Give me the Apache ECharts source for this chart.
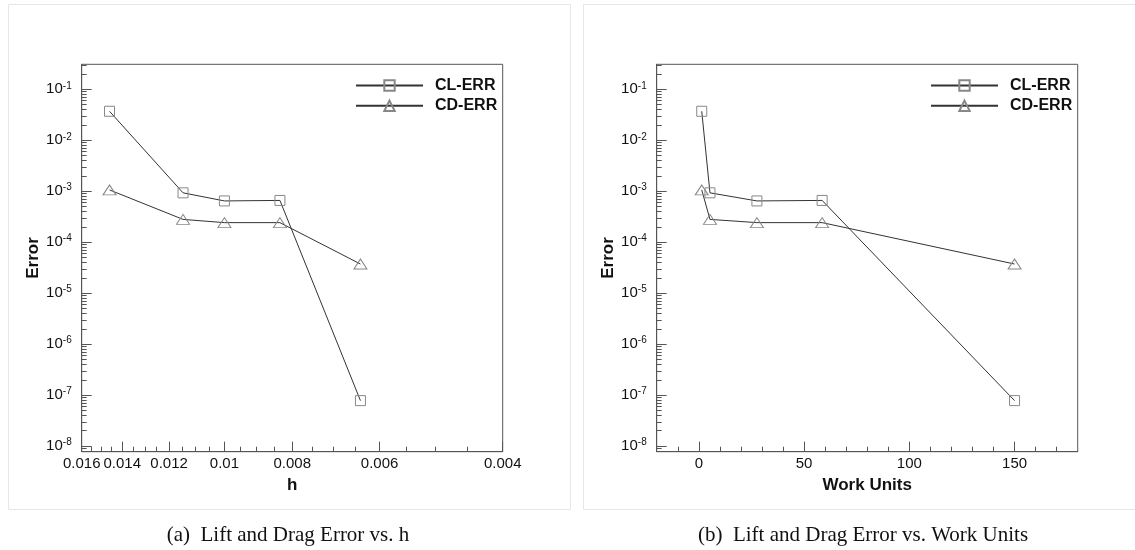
<!DOCTYPE html>
<html>
<head>
<meta charset="utf-8">
<script src="https://cdn.jsdelivr.net/npm/echarts@6/dist/echarts.min.js"></script>
<style>
html, body { margin: 0; padding: 0; background: #fff; }
#main { width: 1135px; height: 550px; }
</style>
</head>
<body>
<div id="main"></div>
<script>
// data
var seriesNames = ['CL-ERR', 'CD-ERR'];
var hValues = [0.0146, 0.01146, 0.0100, 0.00833, 0.00639];
var workUnits = [1.4, 5.3, 27.6, 58.6, 150];
var clErr = [0.037, 9.3e-4, 6.45e-4, 6.6e-4, 7.8e-8];
var cdErr = [1.06e-3, 2.8e-4, 2.42e-4, 2.42e-4, 3.73e-5];

// tick labels
var hTicks = [0.016, 0.014, 0.012, 0.01, 0.008, 0.006, 0.004];
var workTicks = [0, 50, 100, 150];
var errDecades = [-8, -7, -6, -5, -4, -3, -2, -1];
var captions = ['(a)  Lift and Drag Error vs. h', '(b)  Lift and Drag Error vs. Work Units'];

var FRAME = '#555';
var INK = '#111';
var SANS = '"Liberation Sans", Arial, Helvetica, sans-serif';
var SERIF = '"Liberation Serif", "Times New Roman", serif';

function lg(v) { return Math.log10(v); }

var errMin = -8.11, errMax = -0.51;

// minor ticks
var hMinor = [];
for (var k = 8; k <= 32; k++) {
	if (k % 4 !== 0) hMinor.push(lg(k / 2000));
}
var workMinor = [];
for (var w = -10; w <= 170; w += 10) {
	if (w % 50 !== 0) workMinor.push(w);
}
var errMinor = [];
for (var n = -9; n <= -1; n++) {
	for (var m = 2; m <= 9; m++) {
		var v = lg(m) + n;
		if (v > errMin && v < errMax) errMinor.push(v);
	}
}

function xMajor(gridIndex, min, max, inverse, ticks, fmt, name) {
	return {
		type: 'value', gridIndex: gridIndex, position: 'bottom',
		min: min, max: max, inverse: inverse,
		name: name, nameLocation: 'middle', nameGap: 19,
		nameTextStyle: { fontFamily: SANS, fontSize: 17, fontWeight: 'bold', color: INK },
		axisLine: { onZero: false, lineStyle: { color: FRAME, width: 1 } },
		axisTick: { inside: true, length: 10, customValues: ticks, lineStyle: { color: FRAME } },
		axisLabel: { customValues: ticks, formatter: fmt, margin: 5, fontFamily: SANS, fontSize: 15, color: INK },
		splitLine: { show: false }
	};
}

function xMinor(gridIndex, min, max, inverse, ticks) {
	return {
		type: 'value', gridIndex: gridIndex, position: 'bottom',
		min: min, max: max, inverse: inverse,
		axisLine: { show: false, onZero: false },
		axisTick: { inside: true, length: 5, customValues: ticks, lineStyle: { color: FRAME } },
		axisLabel: { show: false },
		splitLine: { show: false }
	};
}

function yMajor(gridIndex) {
	var ticks = errDecades.slice();
	return {
		type: 'value', gridIndex: gridIndex, position: 'left',
		min: errMin, max: errMax,
		name: 'Error', nameLocation: 'middle', nameGap: 40,
		nameTextStyle: { fontFamily: SANS, fontSize: 17, fontWeight: 'bold', color: INK },
		axisLine: { onZero: false, lineStyle: { color: FRAME, width: 1 } },
		axisTick: { inside: true, length: 10, customValues: ticks, lineStyle: { color: FRAME } },
		axisLabel: {
			customValues: ticks, margin: 10,
			formatter: function (val) { return '{b|10}{s|' + Math.round(val) + '}'; },
			rich: {
				b: { fontFamily: SANS, fontSize: 15, lineHeight: 17, color: INK },
				s: { fontFamily: SANS, fontSize: 10, lineHeight: 10, verticalAlign: 'top', color: INK }
			}
		},
		splitLine: { show: false }
	};
}

function yMinor(gridIndex) {
	return {
		type: 'value', gridIndex: gridIndex, position: 'left',
		min: errMin, max: errMax,
		axisLine: { show: false, onZero: false },
		axisTick: { inside: true, length: 5, customValues: errMinor, lineStyle: { color: FRAME } },
		axisLabel: { show: false },
		splitLine: { show: false }
	};
}

function fmtH(val) {
	return String(parseFloat(Math.pow(10, val).toPrecision(3)));
}

function makeSeries(name, symbol, size, xs, ys, axisIndex) {
	var data = xs.map(function (x, i) { return [x, lg(ys[i])]; });
	return {
		name: name, type: 'line', xAxisIndex: axisIndex, yAxisIndex: axisIndex,
		data: data, symbol: symbol, symbolSize: size,
		lineStyle: { color: '#333', width: 1 },
		itemStyle: { color: 'rgba(0,0,0,0)', borderColor: '#888', borderWidth: 1 },
		emphasis: { disabled: true },
		silent: true
	};
}

var hLog = hValues.map(lg);

function legendAt(left) {
	return {
		orient: 'vertical', left: left, top: 77.5, padding: 0,
		itemWidth: 67, itemHeight: 13, itemGap: 4.3,
		selectedMode: false, data: seriesNames,
		textStyle: { fontFamily: SANS, fontSize: 16, fontWeight: 'bold', color: INK, padding: [0, 0, 0, 7] }
	};
}

var option = {
	animation: false,
	backgroundColor: '#fff',
	grid: [
		{ left: 81.7, top: 64.3, width: 421, height: 387.4, show: true, borderColor: FRAME, borderWidth: 1 },
		{ left: 656.7, top: 64.3, width: 421, height: 387.4, show: true, borderColor: FRAME, borderWidth: 1 }
	],
	xAxis: [
		xMajor(0, lg(0.004), lg(0.016), true, hTicks.map(lg), fmtH, 'h'),
		xMinor(0, lg(0.004), lg(0.016), true, hMinor),
		xMajor(1, -20, 180, false, workTicks, function (val) { return String(val); }, 'Work Units'),
		xMinor(1, -20, 180, false, workMinor)
	],
	yAxis: [yMajor(0), yMinor(0), yMajor(1), yMinor(1)],
	legend: [legendAt(355), legendAt(930)],
	series: [
		makeSeries(seriesNames[0], 'rect', 10, hLog, clErr, 0),
		makeSeries(seriesNames[1], 'triangle', [13, 10], hLog, cdErr, 0),
		makeSeries(seriesNames[0], 'rect', 10, workUnits, clErr, 2),
		makeSeries(seriesNames[1], 'triangle', [13, 10], workUnits, cdErr, 2)
	],
	graphic: [
		{ type: 'rect', z: -10, shape: { x: 8.5, y: 4.5, width: 562, height: 505 }, style: { fill: 'none', stroke: '#e6e6e6', lineWidth: 1 } },
		{ type: 'rect', z: -10, shape: { x: 583.5, y: 4.5, width: 560, height: 505 }, style: { fill: 'none', stroke: '#e6e6e6', lineWidth: 1 } },
		{ type: 'text', x: 288, y: 535, style: { text: captions[0], font: '21px ' + SERIF, fill: INK, align: 'center', verticalAlign: 'middle' } },
		{ type: 'text', x: 863, y: 535, style: { text: captions[1], font: '21px ' + SERIF, fill: INK, align: 'center', verticalAlign: 'middle' } }
	]
};

var myChart = echarts.init(document.getElementById('main'));
myChart.setOption(option);
</script>
</body>
</html>
